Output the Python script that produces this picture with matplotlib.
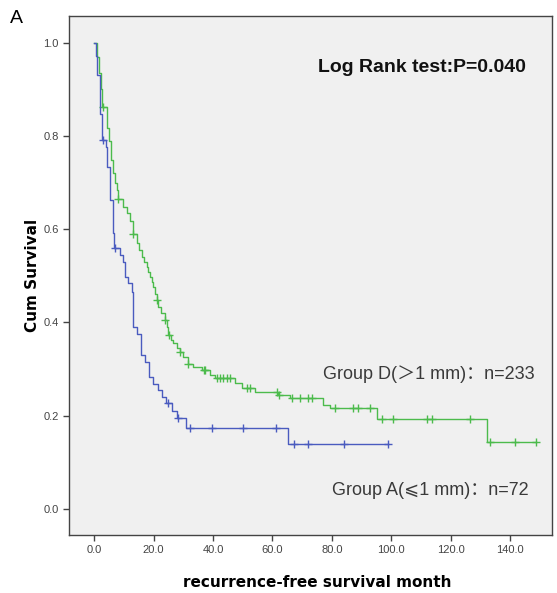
import numpy as np
import matplotlib
matplotlib.use('Agg')
import matplotlib.pyplot as plt

# Kaplan-Meier step data
# Group D (>1 mm), n=233
d_time = [0, 0.8, 1.6, 2.3, 2.7, 4.2, 5.0, 5.8, 6.4, 7.0, 7.5, 8.0, 9.8, 11.0, 12.2,
          13.0, 14.3, 15.2, 16.0, 16.8, 17.6, 18.2, 18.8, 19.4, 19.9, 20.5, 21.0, 21.5,
          22.5, 23.8, 24.5, 24.9, 26.0, 26.6, 28.0, 28.9, 30.0, 31.6, 33.3, 36.2, 39.0,
          40.6, 47.4, 49.6, 54.1, 61.9, 65.9, 77.0, 79.4, 95.1, 132.1, 148.7]
d_surv = [1.0, 0.970, 0.935, 0.900, 0.862, 0.817, 0.790, 0.748, 0.720, 0.700, 0.684,
          0.664, 0.648, 0.634, 0.618, 0.589, 0.570, 0.555, 0.541, 0.530, 0.519, 0.508,
          0.498, 0.487, 0.476, 0.462, 0.448, 0.434, 0.420, 0.405, 0.390, 0.373, 0.362,
          0.355, 0.345, 0.337, 0.325, 0.312, 0.305, 0.298, 0.287, 0.280, 0.271, 0.259,
          0.251, 0.244, 0.237, 0.223, 0.216, 0.192, 0.144, 0.144]
d_cens = [3.0, 8.1, 13.1, 21.2, 23.9, 25.0, 28.9, 31.6, 36.8, 37.3, 41.2, 42.5, 43.5,
          44.6, 45.7, 51.3, 52.4, 61.4, 62.3, 66.5, 69.3, 72.1, 73.2, 81.0, 87.2, 88.9,
          92.8, 96.8, 100.7, 111.9, 113.6, 126.5, 133.2, 141.6, 148.7]

# Group A (<=1 mm), n=72
a_time = [0, 0.6, 1.0, 1.9, 2.0, 2.6, 3.9, 4.4, 5.3, 6.2, 6.8, 8.7, 9.8, 10.3, 11.4,
          12.6, 13.1, 14.3, 15.7, 17.1, 18.4, 19.9, 21.5, 22.9, 24.0, 26.1, 28.0, 30.8,
          65.1, 98.8]
a_surv = [1.0, 0.972, 0.931, 0.889, 0.847, 0.792, 0.777, 0.734, 0.662, 0.591, 0.559,
          0.544, 0.530, 0.498, 0.484, 0.466, 0.391, 0.375, 0.330, 0.316, 0.284, 0.269,
          0.255, 0.241, 0.227, 0.210, 0.195, 0.173, 0.139, 0.139]
a_cens = [3.0, 7.0, 24.9, 28.3, 32.2, 39.5, 50.2, 61.2, 67.2, 72.1, 84.1, 98.8]

x_ticks = [0, 20, 40, 60, 80, 100, 120, 140]
y_ticks = [0.0, 0.2, 0.4, 0.6, 0.8, 1.0]

green = '#4cbb4c'
blue = '#4a5bbf'


def surv_at(times, surv, t):
    i = np.searchsorted(times, t, side='right') - 1
    return np.array(surv)[i]


fig = plt.figure(figsize=(5.57, 5.93), dpi=100)
ax = fig.add_axes([0.1239, 0.0978, 0.867, 0.875])
ax.set_facecolor('#f0f0f0')

ax.step(d_time, d_surv, where='post', color=green, lw=1.0)
ax.plot(d_cens, surv_at(d_time, d_surv, d_cens), '+', color=green, ms=6, mew=1.0)
ax.step(a_time, a_surv, where='post', color=blue, lw=1.0)
ax.plot(a_cens, surv_at(a_time, a_surv, a_cens), '+', color=blue, ms=6, mew=1.0)

ax.set_xlim(-8.5, 154.1)
ax.set_ylim(-0.0557, 1.0568)
ax.set_xticks(x_ticks)
ax.set_xticklabels(['%.1f' % v for v in x_ticks])
ax.set_yticks(y_ticks)
ax.set_yticklabels(['%.1f' % v for v in y_ticks])
ax.tick_params(direction='out', length=4, width=1, color='#444444',
               labelcolor='#444444', labelsize=8)
for lab in ax.get_xticklabels() + ax.get_yticklabels():
    lab.set_family(['Liberation Sans Narrow', 'Liberation Sans'])
for sp in ax.spines.values():
    sp.set_color('#444444')
    sp.set_linewidth(1.0)

ax.set_xlabel('recurrence-free survival month', fontsize=11, fontweight='bold')
ax.xaxis.set_label_coords(0.514, -0.077)
ax.set_ylabel('Cum Survival', fontsize=11, fontweight='bold', labelpad=2)

ax.text(75.3, 0.947, 'Log Rank test:P=0.040', fontsize=14, fontweight='bold',
        family=['Liberation Sans', 'DejaVu Sans'], va='center', ha='left', color='#111111')
ax.text(77, 0.289, 'Group D(＞1 mm)：n=233', fontsize=13,
        family=['Liberation Sans', 'Noto Sans CJK SC', 'DejaVu Sans'],
        va='center', ha='left', color='#3a3a3a')
ax.text(79.9, 0.039, 'Group A(⩽1 mm)：n=72', fontsize=13,
        family=['Liberation Sans', 'Noto Sans CJK SC', 'DejaVu Sans'],
        va='center', ha='left', color='#3a3a3a')

fig.text(0.018, 0.962, 'A', fontsize=14, family=['Liberation Sans', 'DejaVu Sans'])

plt.savefig('out.png', dpi=100)
